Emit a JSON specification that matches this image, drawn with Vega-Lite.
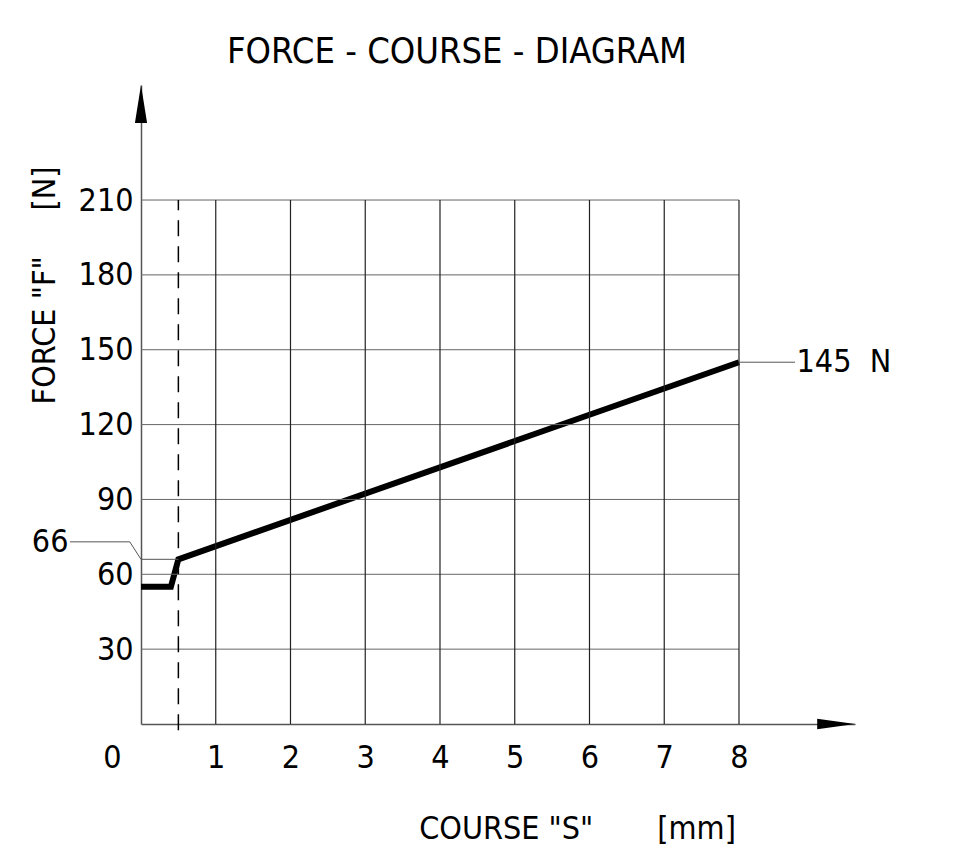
{
  "$schema": "https://vega.github.io/schema/vega-lite/v6.json",
  "width": 714,
  "height": 639,
  "autosize": "none",
  "padding": {"left": 141, "top": 85, "right": 99, "bottom": 130},
  "background": "white",
  "config": {"view": {"stroke": null}, "font": "DejaVu Sans Condensed, Roboto, sans-serif"},
  "title": {
    "text": "FORCE - COURSE - DIAGRAM",
    "font": "DejaVu Sans Condensed, Roboto, sans-serif",
    "fontSize": 36,
    "fontWeight": "normal",
    "color": "#000",
    "anchor": "middle",
    "dx": -41,
    "baseline": "alphabetic",
    "offset": -14
  },
  "datasets": {
    "hgrid": [{"f": 30}, {"f": 60}, {"f": 90}, {"f": 120}, {"f": 150}, {"f": 180}, {"f": 210}],
    "vgrid": [{"s": 1}, {"s": 2}, {"s": 3}, {"s": 4}, {"s": 5}, {"s": 6}, {"s": 7}, {"s": 8}],
    "curve": [
      {"s": 0, "f": 55},
      {"s": 0.4, "f": 55},
      {"s": 0.5, "f": 66},
      {"s": 8, "f": 145}
    ],
    "leader66": [
      {"s": -0.95, "f": 73, "o": 1},
      {"s": -0.15, "f": 73, "o": 2},
      {"s": 0, "f": 66, "o": 3},
      {"s": 0.5, "f": 66, "o": 4}
    ],
    "leader145": [
      {"s": 8, "f": 145, "o": 1},
      {"s": 8.75, "f": 145, "o": 2}
    ],
    "labelsRight": [{"s": -0.97, "f": 73, "label": "66"}],
    "labelsLeft": [{"s": 8.77, "f": 145, "label": "145\u00a0\u00a0N"}]
  },
  "layer": [
    {
      "data": {"name": "curve"},
      "mark": {"type": "line", "color": "#000", "strokeWidth": 6, "strokeJoin": "miter", "strokeCap": "butt"},
      "encoding": {
        "x": {
          "field": "s", "type": "quantitative",
          "scale": {"domain": [0, 9.552], "nice": false, "zero": false},
          "axis": {
            "values": [0, 1, 2, 3, 4, 5, 6, 7, 8],
            "format": "d",
            "grid": false, "ticks": false,
            "domainColor": "#555", "domainWidth": 1.5,
            "labelFont": "DejaVu Sans Condensed, Roboto, sans-serif", "labelFontSize": 32, "labelColor": "#000",
            "labelPadding": 18, "labelFlush": false, "labelOverlap": false,
            "labelOffset": {"condition": {"test": "datum.value === 0", "value": -29}, "value": 0},
            "title": "COURSE\u00a0\"S\"\u00a0\u00a0\u00a0\u00a0\u00a0\u00a0\u00a0[mm]",
            "titleFont": "DejaVu Sans Condensed, Roboto, sans-serif", "titleFontSize": 32, "titleFontWeight": "normal", "titleColor": "#000",
            "titleX": 436, "titleY": 114, "titleAlign": "center", "titleBaseline": "alphabetic", "titleAngle": 0
          }
        },
        "y": {
          "field": "f", "type": "quantitative",
          "scale": {"domain": [0, 256.1], "nice": false, "zero": false},
          "axis": {
            "values": [30, 60, 90, 120, 150, 180, 210],
            "grid": false, "ticks": false,
            "domainColor": "#555", "domainWidth": 1.5,
            "labelFont": "DejaVu Sans Condensed, Roboto, sans-serif", "labelFontSize": 32, "labelColor": "#000",
            "labelPadding": 8, "labelFlush": false, "labelOverlap": false, "labelBaseline": "middle",
            "title": "FORCE\u00a0\"F\"\u00a0\u00a0\u00a0\u00a0\u00a0[N]",
            "titleFont": "DejaVu Sans Condensed, Roboto, sans-serif", "titleFontSize": 32, "titleFontWeight": "normal", "titleColor": "#000",
            "titleX": -87, "titleY": 200, "titleAlign": "center", "titleBaseline": "alphabetic", "titleAngle": -90
          }
        }
      }
    },
    {
      "data": {"name": "hgrid"},
      "mark": {"type": "rule", "color": "#666", "strokeWidth": 1},
      "encoding": {
        "y": {"field": "f", "type": "quantitative", "scale": {"domain": [0, 256.1], "nice": false, "zero": false}},
        "x": {"datum": 0, "type": "quantitative", "scale": {"domain": [0, 9.552], "nice": false, "zero": false}},
        "x2": {"datum": 8}
      }
    },
    {
      "data": {"name": "vgrid"},
      "mark": {"type": "rule", "color": "#222", "strokeWidth": 1.2},
      "encoding": {
        "x": {"field": "s", "type": "quantitative", "scale": {"domain": [0, 9.552], "nice": false, "zero": false}},
        "y": {"datum": 0, "type": "quantitative", "scale": {"domain": [0, 256.1], "nice": false, "zero": false}},
        "y2": {"datum": 210}
      }
    },
    {
      "data": {"values": [{"s": 0.5}]},
      "mark": {"type": "rule", "color": "#000", "strokeWidth": 1.5, "strokeDash": [16, 10]},
      "encoding": {
        "x": {"field": "s", "type": "quantitative", "scale": {"domain": [0, 9.552], "nice": false, "zero": false}},
        "y": {"datum": -2.5, "type": "quantitative", "scale": {"domain": [0, 256.1], "nice": false, "zero": false}},
        "y2": {"datum": 210}
      }
    },
    {
      "data": {"name": "leader66"},
      "mark": {"type": "line", "color": "#555", "strokeWidth": 1},
      "encoding": {
        "x": {"field": "s", "type": "quantitative", "scale": {"domain": [0, 9.552], "nice": false, "zero": false}},
        "y": {"field": "f", "type": "quantitative", "scale": {"domain": [0, 256.1], "nice": false, "zero": false}},
        "order": {"field": "o"}
      }
    },
    {
      "data": {"name": "leader145"},
      "mark": {"type": "line", "color": "#555", "strokeWidth": 1},
      "encoding": {
        "x": {"field": "s", "type": "quantitative", "scale": {"domain": [0, 9.552], "nice": false, "zero": false}},
        "y": {"field": "f", "type": "quantitative", "scale": {"domain": [0, 256.1], "nice": false, "zero": false}},
        "order": {"field": "o"}
      }
    },
    {
      "data": {"values": [{"s": 9.3, "f": 0}]},
      "mark": {"type": "point", "shape": "M-1,-0.27L1,0L-1,0.27Z", "filled": true, "color": "#000", "opacity": 1, "size": 1444, "strokeWidth": 0},
      "encoding": {
        "x": {"field": "s", "type": "quantitative", "scale": {"domain": [0, 9.552], "nice": false, "zero": false}},
        "y": {"field": "f", "type": "quantitative", "scale": {"domain": [0, 256.1], "nice": false, "zero": false}}
      }
    },
    {
      "data": {"values": [{"s": 0, "f": 248.5}]},
      "mark": {"type": "point", "shape": "M-0.32,1L0,-1L0.32,1Z", "filled": true, "color": "#000", "opacity": 1, "size": 1444, "strokeWidth": 0},
      "encoding": {
        "x": {"field": "s", "type": "quantitative", "scale": {"domain": [0, 9.552], "nice": false, "zero": false}},
        "y": {"field": "f", "type": "quantitative", "scale": {"domain": [0, 256.1], "nice": false, "zero": false}}
      }
    },
    {
      "data": {"name": "labelsRight"},
      "mark": {"type": "text", "font": "DejaVu Sans Condensed, Roboto, sans-serif", "fontSize": 32, "color": "#000", "align": "right", "baseline": "middle"},
      "encoding": {
        "x": {"field": "s", "type": "quantitative", "scale": {"domain": [0, 9.552], "nice": false, "zero": false}},
        "y": {"field": "f", "type": "quantitative", "scale": {"domain": [0, 256.1], "nice": false, "zero": false}},
        "text": {"field": "label"}
      }
    },
    {
      "data": {"name": "labelsLeft"},
      "mark": {"type": "text", "font": "DejaVu Sans Condensed, Roboto, sans-serif", "fontSize": 32, "color": "#000", "align": "left", "baseline": "middle"},
      "encoding": {
        "x": {"field": "s", "type": "quantitative", "scale": {"domain": [0, 9.552], "nice": false, "zero": false}},
        "y": {"field": "f", "type": "quantitative", "scale": {"domain": [0, 256.1], "nice": false, "zero": false}},
        "text": {"field": "label"}
      }
    }
  ]
}
